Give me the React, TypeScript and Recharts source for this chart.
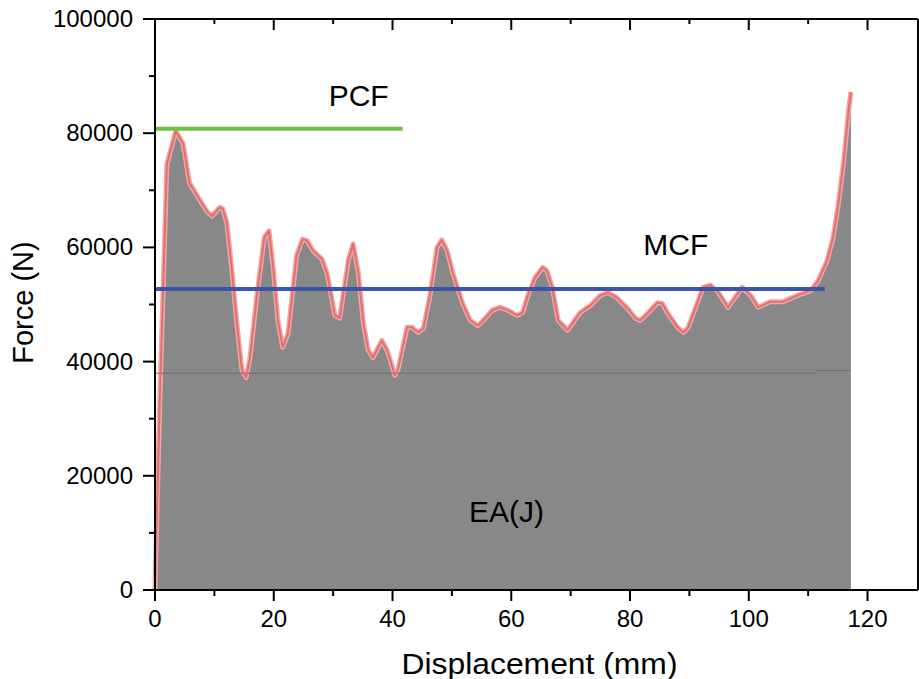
import React from 'react';
import {
  ComposedChart,
  Area,
  Line,
  XAxis,
  YAxis,
  ReferenceLine,
  ReferenceDot,
} from 'recharts';

// displacement (mm) and force (N)
const disp = [
  0, 0.8, 2.0, 3.5, 4.75, 5.8, 7.3, 8.9, 9.6, 10.9, 11.4, 12.1, 12.9, 13.85, 14.65, 15.35, 16.0,
  17.2, 18.4, 19.2, 19.9, 20.7, 21.5, 22.4, 23.85, 24.85, 25.6, 26.6, 28.1, 29.0, 30.3, 31.1,
  32.55, 33.35, 34.2, 35.1, 35.9, 36.7, 38.2, 39.1, 40.4, 40.9, 42.45, 43.3, 44.3, 45.2, 46.3,
  47.5, 48.3, 49.2, 50.2, 51.8, 53.1, 54.4, 55.6, 56.8, 58.1, 59.4, 61.0, 61.9, 62.9, 64.0, 65.3,
  66.0, 66.9, 67.9, 69.5, 70.3, 71.6, 73.3, 75.0, 76.3, 77.8, 79.6, 80.9, 81.7, 83.1, 84.6, 85.4,
  86.4, 88.0, 89.0, 89.8, 91.3, 92.3, 93.5, 94.7, 96.5, 98.9, 100.3, 101.6, 103.6, 105.8, 108.2,
  110.4, 111.7, 113.2, 114.2, 115.0, 116.0, 116.8, 117.2,
];
const force = [
  0, 33000, 74600, 80400, 78100, 71300, 68700, 66100, 65500, 67000, 66800, 64300, 56500, 46000,
  38500, 37200, 40700, 51900, 61700, 62900, 56500, 47200, 42500, 44900, 58600, 61400, 61200,
  59400, 58000, 55400, 48100, 47600, 57700, 60600, 55900, 46700, 42000, 40700, 43700, 42000,
  37600, 38500, 46000, 46000, 45100, 45800, 51500, 60000, 61300, 59400, 55400, 50200, 47200,
  46300, 47600, 49000, 49500, 49000, 48100, 48600, 51900, 54700, 56500, 55900, 53000, 47200,
  45500, 46700, 48600, 49800, 51600, 52100, 51200, 49300, 47600, 47200, 48600, 50300, 50200,
  48400, 46000, 45100, 46000, 50200, 53000, 53400, 52400, 49500, 53000, 51600, 49500, 50500,
  50500, 51600, 52400, 54200, 57700, 61700, 67000, 75200, 83900, 87200,
];

const pcf = 80800;
const pcfEnd = 41.7;
const mcf = 52700;
const mcfEnd = 112.8;
const baseLine = [
  { from: 0, to: 111.4, y: 37970 },
  { from: 111.4, to: 117.1, y: 38430 },
];

const xTicks = [0, 10, 20, 30, 40, 50, 60, 70, 80, 90, 100, 110, 120];
const yTicks = [0, 10000, 20000, 30000, 40000, 50000, 60000, 70000, 80000, 90000, 100000];

const rows = disp.map((x, i) => ({ x, f: force[i] }));

const FONT = '"Liberation Sans", Arial, sans-serif';

const BottomTick = ({ x, y, payload }: any) => {
  const major = payload.value % 20 === 0;
  return (
    <g>
      <line x1={x} x2={x} y1={y} y2={y + (major ? 11 : 6)} stroke="#000" strokeWidth={2} />
      {major && (
        <text x={x} y={y + 37} textAnchor="middle" fontSize={24} fontFamily={FONT} fill="#000">
          {payload.value}
        </text>
      )}
    </g>
  );
};

const TopTick = ({ x, y, payload }: any) => {
  const major = payload.value % 20 === 0;
  return <line x1={x} x2={x} y1={y} y2={y + (major ? 11 : 5)} stroke="#000" strokeWidth={2} />;
};

const LeftTick = ({ x, y, payload }: any) => {
  const major = payload.value % 20000 === 0;
  return (
    <g>
      <line x1={x} x2={x - (major ? 12 : 6)} y1={y} y2={y} stroke="#000" strokeWidth={2} />
      {major && (
        <text x={x - 22} y={y + 8} textAnchor="end" fontSize={24} fontFamily={FONT} fill="#000">
          {payload.value}
        </text>
      )}
    </g>
  );
};

const RightTick = ({ x, y, payload }: any) => {
  const major = payload.value % 20000 === 0;
  return <line x1={x} x2={x - (major ? 11 : 5)} y1={y} y2={y} stroke="#000" strokeWidth={2} />;
};

const XTitle = ({ viewBox }: any) => (
  <text
    x={viewBox.x + viewBox.width / 2 + 3}
    y={viewBox.y + 84}
    textAnchor="middle"
    fontSize={29}
    fontFamily={FONT}
    fill="#000"
    textLength={276}
    lengthAdjust="spacingAndGlyphs"
  >
    Displacement (mm)
  </text>
);

const YTitle = ({ viewBox }: any) => {
  const cx = 33;
  const cy = viewBox.y + viewBox.height / 2 - 2;
  return (
    <text
      x={cx}
      y={cy}
      transform={`rotate(-90 ${cx} ${cy})`}
      textAnchor="middle"
      fontSize={29}
      fontFamily={FONT}
      fill="#000"
    >
      Force (N)
    </text>
  );
};

const noteLabel = (value: string) => ({
  value,
  position: 'center' as const,
  fontSize: 30,
  fontFamily: FONT,
  fill: '#000',
});

export default function App() {
  return (
    <div style={{ position: 'absolute', left: 0, top: 0, width: 919, height: 679, overflow: 'hidden', background: '#fff' }}>
      <ComposedChart width={930} height={679} data={rows} margin={{ top: 0, right: 0, bottom: 0, left: 0 }}>
        <XAxis
          dataKey="x"
          type="number"
          domain={[0, 128.5]}
          ticks={xTicks}
          interval={0}
          height={89}
          tickSize={0}
          tickMargin={0}
          tickLine={false}
          tick={<BottomTick />}
          axisLine={{ stroke: '#000', strokeWidth: 2 }}
          label={<XTitle />}
        />
        <XAxis
          xAxisId="top"
          orientation="top"
          dataKey="x"
          type="number"
          domain={[0, 128.5]}
          ticks={xTicks}
          interval={0}
          height={19}
          tickSize={0}
          tickMargin={0}
          tickLine={false}
          tick={<TopTick />}
          axisLine={{ stroke: '#000', strokeWidth: 2 }}
        />
        <YAxis
          type="number"
          domain={[0, 100000]}
          ticks={yTicks}
          interval={0}
          width={155}
          tickSize={0}
          tickMargin={0}
          tickLine={false}
          tick={<LeftTick />}
          axisLine={{ stroke: '#000', strokeWidth: 2 }}
          label={<YTitle />}
        />
        <YAxis
          yAxisId="right"
          orientation="right"
          type="number"
          domain={[0, 100000]}
          ticks={yTicks}
          interval={0}
          width={12}
          tickSize={0}
          tickMargin={0}
          tickLine={false}
          tick={<RightTick />}
          axisLine={{ stroke: '#000', strokeWidth: 2 }}
        />
        <Area
          dataKey="f"
          type="linear"
          fill="#888888"
          fillOpacity={1}
          stroke="#f3a4a4"
          strokeWidth={5}
          strokeLinejoin="round"
          baseValue={0}
          isAnimationActive={false}
        />
        {baseLine.map((s, i) => (
          <ReferenceLine
            key={i}
            segment={[{ x: s.from, y: s.y }, { x: s.to, y: s.y }]}
            stroke="#6b6b6b"
            strokeWidth={1}
          />
        ))}
        <Line
          dataKey="f"
          type="linear"
          stroke="#e07070"
          strokeWidth={2}
          strokeLinejoin="round"
          dot={false}
          isAnimationActive={false}
        />
        <ReferenceLine segment={[{ x: 0, y: pcf }, { x: pcfEnd, y: pcf }]} stroke="#6dbf46" strokeWidth={4} />
        <ReferenceLine segment={[{ x: 0, y: mcf }, { x: mcfEnd, y: mcf }]} stroke="#3c55a5" strokeWidth={4} />
        <ReferenceDot x={34.3} y={86700} r={1} fill="none" stroke="none" label={noteLabel('PCF')} />
        <ReferenceDot x={87.7} y={60450} r={1} fill="none" stroke="none" label={noteLabel('MCF')} />
        <ReferenceDot x={59.2} y={13700} r={1} fill="none" stroke="none" label={noteLabel('EA(J)')} />
      </ComposedChart>
    </div>
  );
}
